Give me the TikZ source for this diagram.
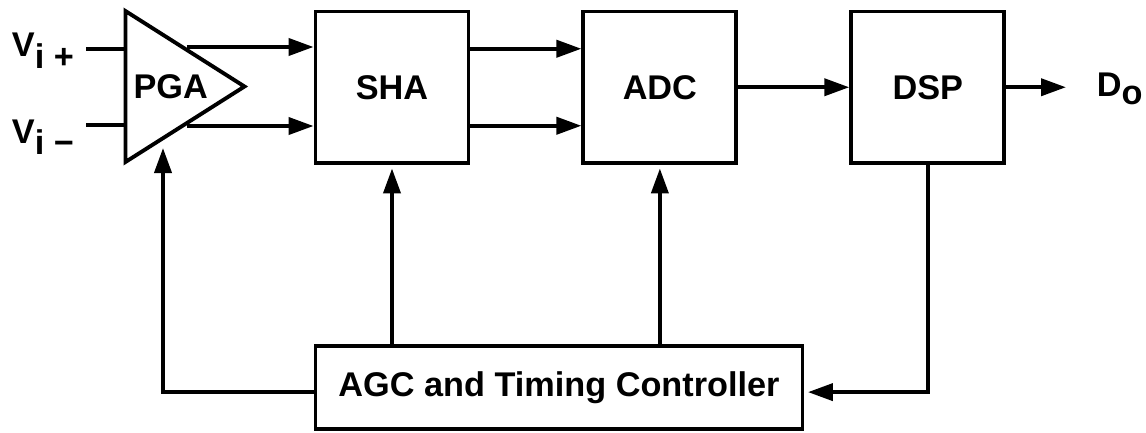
\documentclass[tikz,border=0pt]{standalone}
\usepackage{fontspec}
\setmainfont{Liberation Sans}
\usetikzlibrary{positioning, shapes.geometric, arrows.meta}

\begin{document}
\begin{tikzpicture}[>={Triangle[length=0.5cm, width=0.34cm]}, line width=2.2pt,
  font=\bfseries\fontsize{19.5}{23}\selectfont,
  box/.style={draw, rectangle, minimum width=3.06cm, minimum height=3.03cm, inner sep=4pt},
  amp/.style={draw, isosceles triangle, isosceles triangle stretches,
              minimum width=3.02cm, minimum height=2.22cm, inner sep=2pt},
  arr/.style={->},
  lbl/.style={anchor=base west, inner sep=0pt}]

\useasboundingbox (0,0) rectangle (22.92,-8.66);

\node[amp, anchor=west] (pga) at (2.47,-1.73) {PGA};
\node[box] (sha) at (7.84,-1.745) {SHA};
\node[box, right=2.22cm of sha] (adc) {ADC};
\node[box, right=2.22cm of adc] (dsp) {DSP};
\node[box, below=3.58cm of sha.south west, anchor=north west,
      minimum width=9.74cm, minimum height=1.67cm] (agc) {AGC and Timing Controller};

\node[lbl] (vip) at (0.2,-1.134) {V\raisebox{-6.5pt}{i +}};
\node[lbl] (vim) at (0.2,-2.86) {V\raisebox{-6.5pt}{i −}};
\node[lbl] (dout) at (21.9,-1.934) {D\raisebox{-4.5pt}{o}};

\coordinate (inp) at (1.72,-0.975);
\coordinate (inm) at (1.72,-2.5);
\coordinate (gain) at (3.26,-2.96);

\draw (inp) -- (inp -| pga.west);
\draw (inm) -- (inm -| pga.west);
\draw[arr] (pga.left side) -- (pga.left side -| sha.west);
\draw[arr] (pga.right side) -- (pga.right side -| sha.west);

\draw[arr] ([yshift=0.77cm]sha.east) -- ([yshift=0.77cm]adc.west);
\draw[arr] ([yshift=-0.77cm]sha.east) -- ([yshift=-0.77cm]adc.west);
\draw[arr] (adc) -- (dsp);
\draw[arr, shorten >=0.58cm] (dsp.east) -- (dsp.east -| dout.west);

\draw[arr] ([yshift=-0.09cm]agc.west) -| (gain);
\draw[arr, shorten >=2pt] (agc.north -| sha.south) -- (sha.south);
\draw[arr, shorten >=2pt] (agc.north -| adc.south) -- (adc.south);
\draw[arr, shorten >=2pt] (dsp.south) |- ([yshift=-0.09cm]agc.east);
\end{tikzpicture}
\end{document}
